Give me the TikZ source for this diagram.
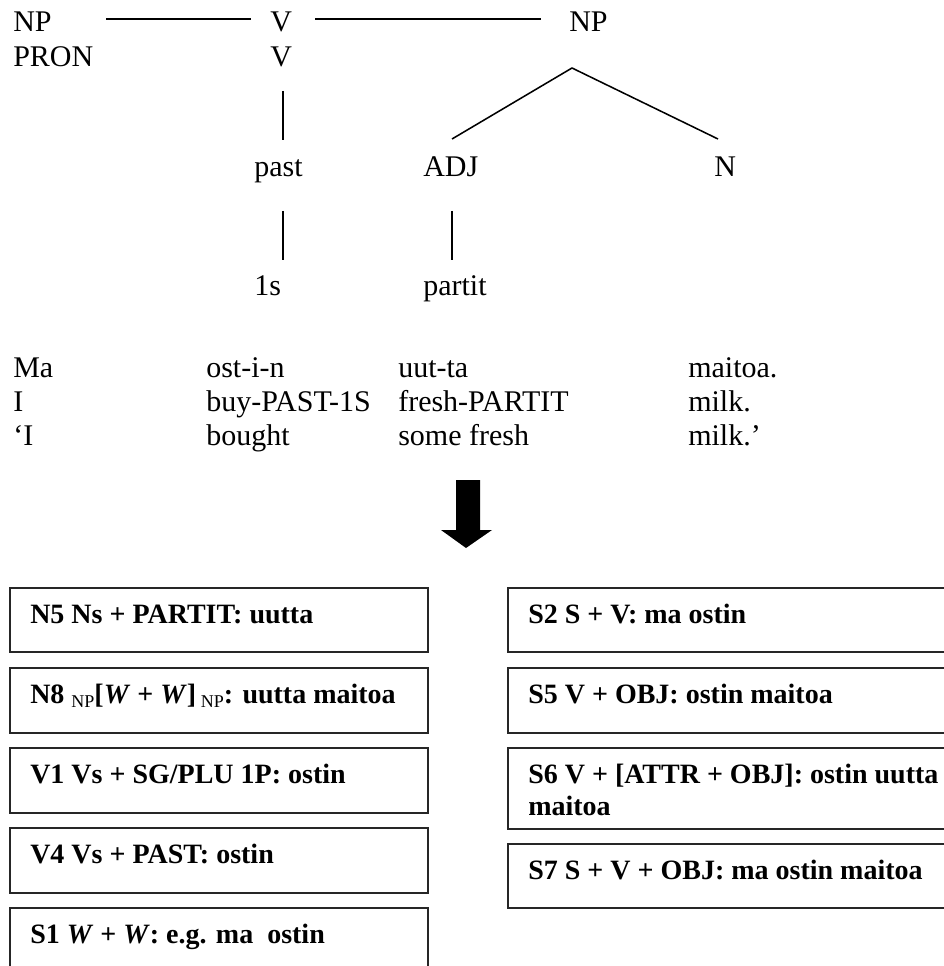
\documentclass[tikz,border=0pt]{standalone}
\usepackage{fontspec}
\setmainfont{Liberation Serif}
\usetikzlibrary{calc}
\begin{document}
\begin{tikzpicture}[x=0.75pt,y=-0.75pt,
  font=\fontsize{22.5}{24}\selectfont,
  lbl/.style={anchor=base west,inner sep=0pt},
  tree/.style={line width=1.15pt},
  box/.style={draw=black!85,line width=1.15pt,anchor=north west,inner sep=0pt},
  lbox/.style={box,minimum width=313.5pt},
  rbox/.style={box,minimum width=347.25pt},
  btxt/.style={anchor=base west,inner sep=0pt,font=\fontsize{21}{24}\selectfont\bfseries,align=left}]
\useasboundingbox (0,0) rectangle (944,966);
\clip (0,0) rectangle (944,966);
\fill[white] (0,0) rectangle (944,966);

% --- tree ---
\node[lbl] (np1) at (13,32) {NP};
\node[lbl] (v1) at (270,32) {V};
\node[lbl] (np2) at (569,32) {NP};
\node[lbl] (pron) at (13,67) {PRON};
\node[lbl] (v2) at (270,67) {V};
\node[lbl] (past) at (254,177) {past};
\node[lbl] (adj) at (423,177) {ADJ};
\node[lbl] (n) at (714,177) {N};
\node[lbl] (ones) at (254,295) {1s};
\node[lbl] (partit) at (423,295) {partit};

\draw[tree] ($(np1.base west)+(93,-13)$) -- ($(v1.base west)+(-19,-13)$);
\draw[tree] ($(v1.base west)+(45,-13)$) -- ($(np2.base west)+(-28,-13)$);
\draw[tree] ($(adj.base west)+(29,-38)$) -- ($(np2.base west)+(3,36)$) -- ($(n.base west)+(4,-38)$);
\draw[tree] ($(v2.base west)+(13,24)$) -- ($(past.base west)+(29,-37)$);
\draw[tree] ($(past.base west)+(29,34)$) -- ($(ones.base west)+(29,-35)$);
\draw[tree] ($(adj.base west)+(29,34)$) -- ($(partit.base west)+(29,-35)$);

% --- glosses ---
\node[lbl] (g11) at (13,377) {Ma};
\node[lbl] (g12) at (206,377) {ost-i-n};
\node[lbl] (g13) at (398,377) {uut-ta};
\node[lbl] (g14) at (688,377) {maitoa.};
\node[lbl] (g21) at (13,411) {I};
\node[lbl] (g22) at (206,411) {buy-PAST-1S};
\node[lbl] (g23) at (398,411) {fresh-PARTIT};
\node[lbl] (g24) at (688,411) {milk.};
\node[lbl] (g31) at (13,445) {‘I};
\node[lbl] (g32) at (206,445) {bought};
\node[lbl] (g33) at (398,445) {some fresh};
\node[lbl] (g34) at (688,445) {milk.’};

% --- block arrow ---
\fill (456,480) -- (480,480) -- (480,530) -- (492,530) -- (466,548) -- (441,530) -- (456,530) -- cycle;

% --- left column of boxes ---
\node[lbox,minimum height=48pt] (bn5) at (9,587) {};
\node[lbox,minimum height=48.75pt] (bn8) at (9,667) {};
\node[lbox,minimum height=48.75pt] (bv1) at (9,747) {};
\node[lbox,minimum height=48.75pt] (bv4) at (9,827) {};
\node[lbox,minimum height=64pt] (bs1) at (9,907) {};
\node[btxt] (tn5) at ($(bn5.north west)+(21,36)$) {N5 Ns + PARTIT: uutta};
\node[btxt] (tn8) at ($(bn8.north west)+(21,36)$) {N8 \raisebox{-0.35ex}{\fontsize{13.5}{13.5}\selectfont\mdseries NP}[\textit{W} + \textit{W}]\,\raisebox{-0.35ex}{\fontsize{13.5}{13.5}\selectfont\mdseries NP}: uutta maitoa};
\node[btxt] (tv1) at ($(bv1.north west)+(21,36)$) {V1 Vs + SG/PLU 1P: ostin};
\node[btxt] (tv4) at ($(bv4.north west)+(21,36)$) {V4 Vs + PAST: ostin};
\node[btxt] (ts1) at ($(bs1.north west)+(21,36)$) {S1 \textit{W} + \textit{W}: e.g. ma~\ ostin};

% --- right column of boxes ---
\node[rbox,minimum height=48pt] (bs2) at (507,587) {};
\node[rbox,minimum height=48.75pt] (bs5) at (507,667) {};
\node[rbox,minimum height=60.75pt] (bs6) at (507,747) {};
\node[rbox,minimum height=48pt] (bs7) at (507,843) {};
\node[btxt] (ts2) at ($(bs2.north west)+(21,36)$) {S2 S + V: ma ostin};
\node[btxt] (ts5) at ($(bs5.north west)+(21,36)$) {S5 V + OBJ: ostin maitoa};
% two-line text: the base anchor sits on the last line
\node[btxt] (ts6) at ($(bs6.north west)+(21,68)$) {S6 V + [ATTR + OBJ]: ostin uutta\\maitoa};
\node[btxt] (ts7) at ($(bs7.north west)+(21,36)$) {S7 S + V + OBJ: ma ostin maitoa};
\end{tikzpicture}
\end{document}
